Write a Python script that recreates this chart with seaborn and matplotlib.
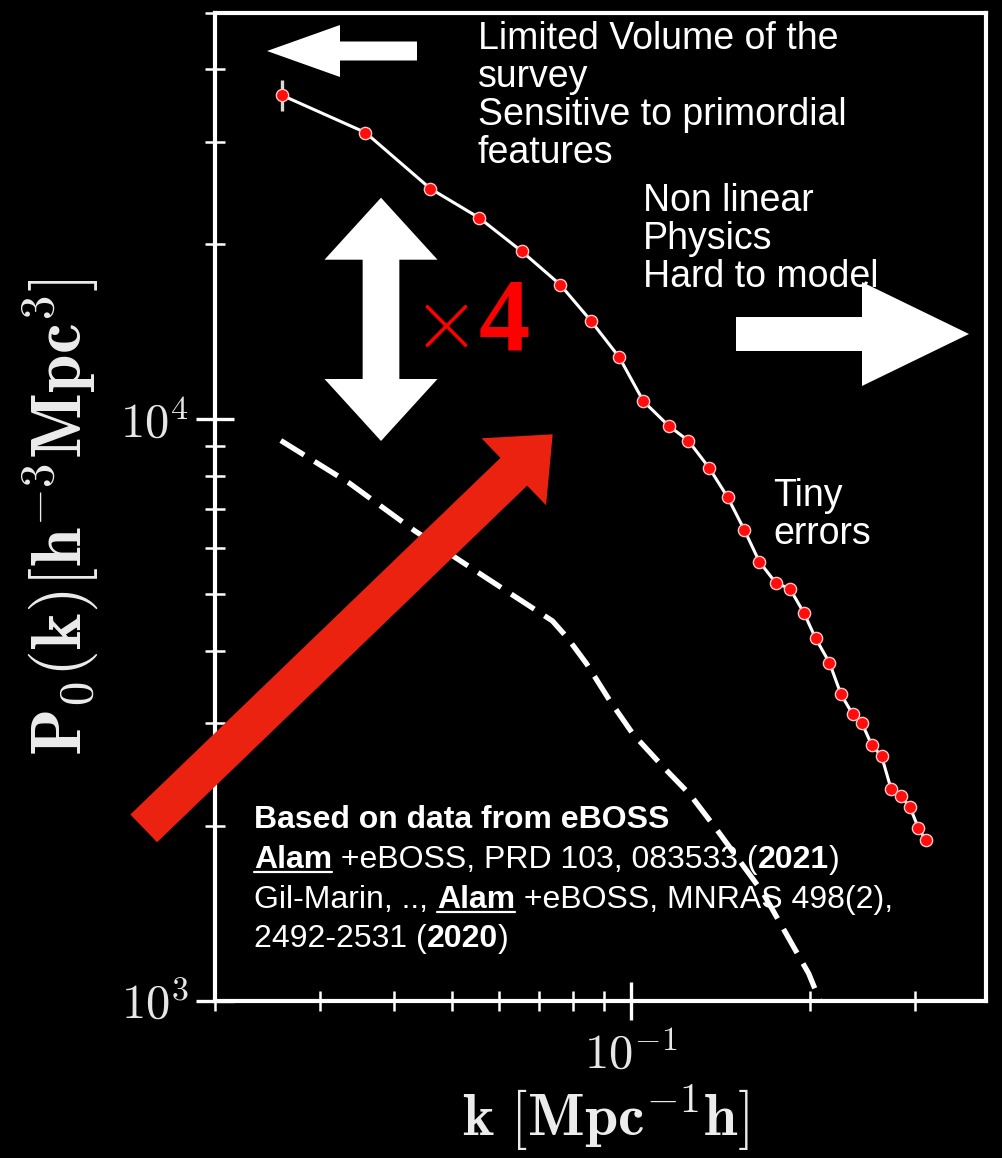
import numpy as np
import pandas as pd
import matplotlib
matplotlib.use("Agg")
import matplotlib.pyplot as plt
import seaborn as sns
from matplotlib.patches import Polygon
from matplotlib.lines import Line2D
from matplotlib.ticker import LogLocator, NullFormatter, FuncFormatter

# eBOSS power-spectrum monopole measurements
k_obs = [0.0259, 0.0358, 0.0460, 0.0556, 0.0655, 0.0760, 0.0856, 0.0956,
         0.1049, 0.1157, 0.1248, 0.1354, 0.1454, 0.1550, 0.1643, 0.1752,
         0.1850, 0.1953, 0.2043, 0.2155, 0.2254, 0.2359, 0.2442, 0.2538,
         0.2637, 0.2735, 0.2840, 0.2943, 0.3041, 0.3132]
p0_obs = [36040, 31090, 24910, 22180, 19440, 17040, 14770, 12770,
          10740, 9740, 9190, 8240, 7340, 6457, 5692, 5229,
          5112, 4644, 4201, 3816, 3365, 3109, 3010, 2754,
          2636, 2317, 2253, 2154, 1983, 1888]
p0_err = [2200, 420, 330, 280, 240, 200, 170, 150,
          120, 110, 100, 90, 80, 70, 62, 57,
          55, 50, 45, 41, 36, 33, 32, 29,
          28, 25, 24, 23, 21, 20]

# Reference curve (dashed)
k_ref = [0.0258, 0.0336, 0.0433, 0.0574, 0.0738, 0.0782, 0.0842, 0.0921,
         0.1007, 0.1133, 0.1257, 0.1394, 0.1665, 0.1989, 0.2090]
p0_ref = [9190, 7770, 6430, 5320, 4500, 4210, 3800, 3285,
          2880, 2525, 2263, 1970, 1537, 1115, 985]

x_limits = (0.02, 0.395)
y_limits = (1.0e3, 5.0e4)

W, H = 1003, 1158

sns.set_theme(style="dark", rc={
    "figure.facecolor": "black", "axes.facecolor": "black",
    "savefig.facecolor": "black", "axes.edgecolor": "white",
    "axes.grid": False,
})
plt.rcParams["font.family"] = ["Liberation Sans", "DejaVu Sans"]
plt.rcParams["mathtext.fontset"] = "cm"

fig = plt.figure(figsize=(W / 100, H / 100), dpi=100)
L, R, T, B = 215, 986, 12.5, 1001
ax = fig.add_axes([L / W, 1 - B / H, (R - L) / W, (B - T) / H])
ax.set_xscale("log")
ax.set_yscale("log")

obs = pd.DataFrame({"k": k_obs, "P0": p0_obs})
ref = pd.DataFrame({"k": k_ref, "P0": p0_ref})

sns.lineplot(data=ref, x="k", y="P0", ax=ax, color="white", lw=3.8,
             errorbar=None, zorder=2)
ref_line = ax.lines[-1]
ref_line.set_dashes([5.2, 2.3])

sns.lineplot(data=obs, x="k", y="P0", ax=ax, color="white", lw=2.2,
             errorbar=None, zorder=3)
ax.errorbar(k_obs, p0_obs, yerr=p0_err, fmt="none", ecolor="#d9d9d9",
            elinewidth=2.4, capsize=0, zorder=3)
sns.scatterplot(data=obs, x="k", y="P0", ax=ax, color="#ff0d0d", s=78,
                edgecolor="#ffc4c4", linewidth=1.0, zorder=4)

ax.set_xlim(*x_limits)
ax.set_ylim(*y_limits)
for s in ax.spines.values():
    s.set_visible(True)
    s.set_color("white")
    s.set_linewidth(3.0)

for axis in (ax.xaxis, ax.yaxis):
    axis.set_major_locator(LogLocator(base=10))
    axis.set_minor_locator(LogLocator(base=10, subs=np.arange(2, 10)))
    axis.set_major_formatter(FuncFormatter(lambda v, pos: r"$10^{%d}$" % round(np.log10(v))))
    axis.set_minor_formatter(NullFormatter())

ax.tick_params(which="both", bottom=True, left=True, top=False, right=False,
               direction="inout", color="white")
ax.tick_params(which="major", length=27, width=2.4, labelcolor="#e6e6e6", labelsize=35)
ax.tick_params(which="minor", length=14, width=1.8)
ax.tick_params(axis="x", which="major", pad=9)
ax.tick_params(axis="y", which="major", pad=5)

ax.set_xlabel(r"$\mathbf{k\ [Mpc^{-1}h]}$", fontsize=43, color="#ececec")
ax.set_ylabel(r"$\mathbf{P_0(k)[h^{-3}Mpc^3]}$", fontsize=50, color="#ececec")
ax.xaxis.set_label_coords((605 - L) / (R - L), (B - 1083) / (B - T))
ax.yaxis.set_label_coords((100 - L) / (R - L), 0.49)


# ---- annotation layer, laid out in figure pixels (origin top-left) ----
def fpos(x, y):
    return (x / W, 1 - y / H)


def block_arrow(tail, tip, shaft_w, head_w, head_len):
    tail = np.asarray(tail, float)
    tip = np.asarray(tip, float)
    d = tip - tail
    u = d / np.hypot(*d)
    n = np.array([-u[1], u[0]])
    base = tip - u * head_len
    pts = [tail + n * shaft_w / 2, base + n * shaft_w / 2, base + n * head_w / 2,
           tip, base - n * head_w / 2, base - n * shaft_w / 2, tail - n * shaft_w / 2]
    return [fpos(*p) for p in pts]


def add_poly(pts, color, z=10):
    fig.add_artist(Polygon(pts, closed=True, facecolor=color, edgecolor="none",
                           transform=fig.transFigure, zorder=z))


add_poly(block_arrow((417, 51), (267, 51), 19, 52, 73), "white")
add_poly(block_arrow((736, 334), (969, 334), 34, 104, 107), "white")
add_poly(block_arrow((143.7, 828.4), (552.7, 434.3), 38.5, 93, 54), "#ec2210")

cx, top_tip, bot_tip, sw, hw, hl = 381, 197.7, 441, 36.7, 113, 62
dbl = [(cx - sw / 2, top_tip + hl), (cx - hw / 2, top_tip + hl), (cx, top_tip),
       (cx + hw / 2, top_tip + hl), (cx + sw / 2, top_tip + hl),
       (cx + sw / 2, bot_tip - hl), (cx + hw / 2, bot_tip - hl), (cx, bot_tip),
       (cx - hw / 2, bot_tip - hl), (cx - sw / 2, bot_tip - hl)]
add_poly([fpos(*p) for p in dbl], "white")

# the "x4" factor: thin times sign followed by a heavy serif digit
fig.text(*fpos(412, 347), r"$\times$", fontsize=62, color="#ff0000",
         ha="left", va="baseline", zorder=11)
fig.text(*fpos(479, 350), "4", fontsize=74, color="#ff0000",
         family=["Liberation Serif", "DejaVu Serif"], fontweight="bold",
         ha="left", va="baseline", zorder=11)

note_size = 27
for txt, y in [("Limited Volume of the", 49), ("survey", 87),
               ("Sensitive to primordial", 125), ("features", 163)]:
    fig.text(*fpos(478, y), txt, fontsize=note_size, color="white",
             ha="left", va="baseline", zorder=11)
for txt, y in [("Non linear", 211), ("Physics", 249), ("Hard to model", 287)]:
    fig.text(*fpos(643, y), txt, fontsize=note_size, color="white",
             ha="left", va="baseline", zorder=11)
for txt, y in [("Tiny", 506), ("errors", 544)]:
    fig.text(*fpos(773, y), txt, fontsize=note_size, color="white",
             ha="left", va="baseline", zorder=11)

renderer = fig.canvas.get_renderer()
ref_size = 23


def rich_line(x, y, pieces):
    cur = x
    for txt, bold, under in pieces:
        t = fig.text(*fpos(cur, y), txt, fontsize=ref_size, color="white",
                     fontweight="bold" if bold else "normal",
                     ha="left", va="baseline", zorder=11)
        bb = t.get_window_extent(renderer)
        if under:
            fig.add_artist(Line2D([bb.x0 / W, bb.x1 / W],
                                  [1 - (y + 3.5) / H] * 2, color="white",
                                  lw=1.6, transform=fig.transFigure, zorder=11))
        cur += bb.width


rich_line(254, 828, [("Based on data from eBOSS", True, False)])
rich_line(254, 868, [("Alam", True, True), (" +eBOSS, PRD 103, 083533 (", False, False),
                     ("2021", True, False), (")", False, False)])
rich_line(254, 908, [("Gil-Marin, .., ", False, False), ("Alam", True, True),
                     (" +eBOSS, MNRAS 498(2),", False, False)])
rich_line(254, 947, [("2492-2531 (", False, False), ("2020", True, False),
                     (")", False, False)])

fig.savefig("out.png", dpi=100, facecolor="black")
